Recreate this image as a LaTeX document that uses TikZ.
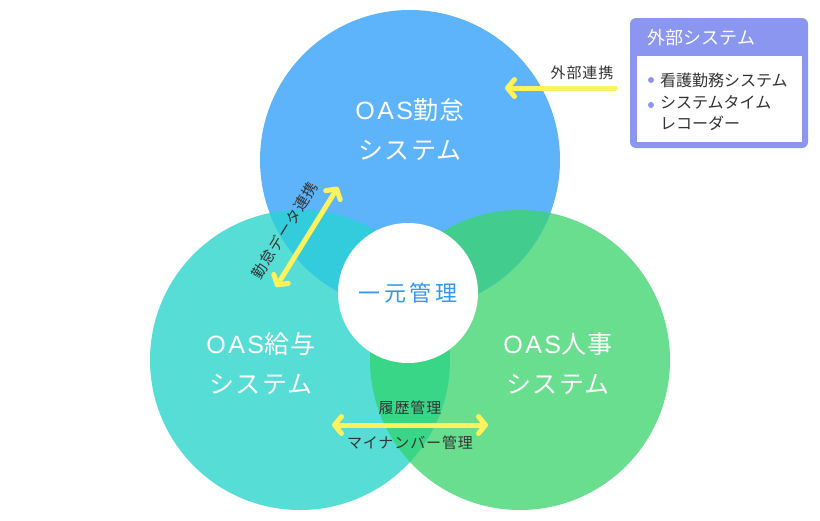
\documentclass[tikz,border=0pt]{standalone}
\usepackage{fontspec}
\setmainfont{Noto Sans CJK JP}
\newfontfamily\spacedfont[LetterSpace=6]{Noto Sans CJK JP}
\newfontfamily\latinfont[LetterSpace=10]{Liberation Sans}
\usepackage{xcolor}
\usetikzlibrary{arrows.meta, positioning, calc}
\definecolor{kintaiblue}{RGB}{94, 180, 250}
\definecolor{kyuyoteal}{RGB}{86, 221, 214}
\definecolor{jinjigreen}{RGB}{104, 222, 142}
\definecolor{blueteal}{RGB}{50, 204, 220}
\definecolor{bluegreen}{RGB}{66, 204, 142}
\definecolor{tealgreen}{RGB}{58, 214, 136}
\definecolor{linkyellow}{RGB}{255, 242, 92}
\definecolor{extpurple}{RGB}{138, 150, 240}
\definecolor{ichigenblue}{RGB}{51, 153, 238}
\definecolor{labelgray}{RGB}{51, 51, 51}

\newcommand{\oas}{{\latinfont OAS}}

\tikzset{
    syslabel/.style={text=white, align=center, font=\spacedfont\fontsize{25}{40}\selectfont},
    linklabel/.style={text=labelgray, font=\spacedfont\fontsize{15}{16}\selectfont, inner sep=2pt},
    link/.style={draw=linkyellow, line width=5pt, line cap=round,
        arrows={-Straight Barb[round, length=7pt, width=17pt]}},
    bothlink/.style={link, arrows={Straight Barb[round, length=7pt, width=17pt]-Straight Barb[round, length=7pt, width=17pt]}},
}

\begin{document}
\begin{tikzpicture}[x=1pt, y=-1pt]
    \useasboundingbox (0,0) rectangle (820,520);

    % three systems
    \fill[jinjigreen] (520,360) circle[radius=150pt];
    \fill[kyuyoteal] (300,360) circle[radius=150pt];
    \fill[kintaiblue] (410,160) circle[radius=150pt];
    \begin{scope}
        \clip (410,160) circle[radius=150pt];
        \fill[blueteal] (300,360) circle[radius=150pt];
        \fill[bluegreen] (520,360) circle[radius=150pt];
    \end{scope}
    \begin{scope}
        \clip (300,360) circle[radius=150pt];
        \fill[tealgreen] (520,360) circle[radius=150pt];
    \end{scope}

    \node[circle, fill=white, minimum size=140pt, text=ichigenblue,
          font={\addfontfeature{LetterSpace=16}\fontsize{22}{24}\selectfont}] (ichigen) at (408,293) {一元管理};

    \node[syslabel] (kintai) at (410,130) {\oas 勤怠\\システム};
    \node[syslabel] (kyuyo) at (261,364) {\oas 給与\\システム};
    \node[syslabel] (jinji) at (558,364) {\oas 人事\\システム};

    % external box
    \fill[extpurple, rounded corners=6pt] (630,18) rectangle (808,148);
    \fill[white] (637,56) rectangle (802,142);
    \node[anchor=west, text=white, font=\fontsize{18}{20}\selectfont] (exttitle) at (644,38) {外部システム};
    \fill[extpurple] (651,80) circle[radius=3pt];
    \fill[extpurple] (651,105) circle[radius=3pt];
    \node[anchor=west, text=labelgray, font=\fontsize{16}{21}\selectfont, inner sep=0pt] (kango) at (660,80) {看護勤務システム};
    \node[anchor=north west, text=labelgray, align=left, font=\fontsize{16}{21}\selectfont, inner sep=0pt] (recorder) at (660,95) {システムタイム\\レコーダー};

    % connectors
    \coordinate (extout) at (615,88);
    \coordinate (extin) at (505,88);
    \draw[link] (extout) -- node[linklabel, pos=0.3, above=4pt] (extlink) {外部連携} (extin);

    \coordinate (kyuyoend) at (276,287);
    \coordinate (kintaiend) at (338,187);
    \draw[bothlink] (kyuyoend) -- node[linklabel, sloped, pos=0.45, above=11pt] (datalink) {勤怠データ連携} (kintaiend);

    \coordinate (kyuyoside) at (332,425);
    \coordinate (jinjiside) at (488,425);
    \draw[bothlink] (kyuyoside) -- (jinjiside);
    \node[linklabel] (rireki) at (410,408) {履歴管理};
    \node[linklabel] (mynumber) at (410,443) {マイナンバー管理};
\end{tikzpicture}
\end{document}
